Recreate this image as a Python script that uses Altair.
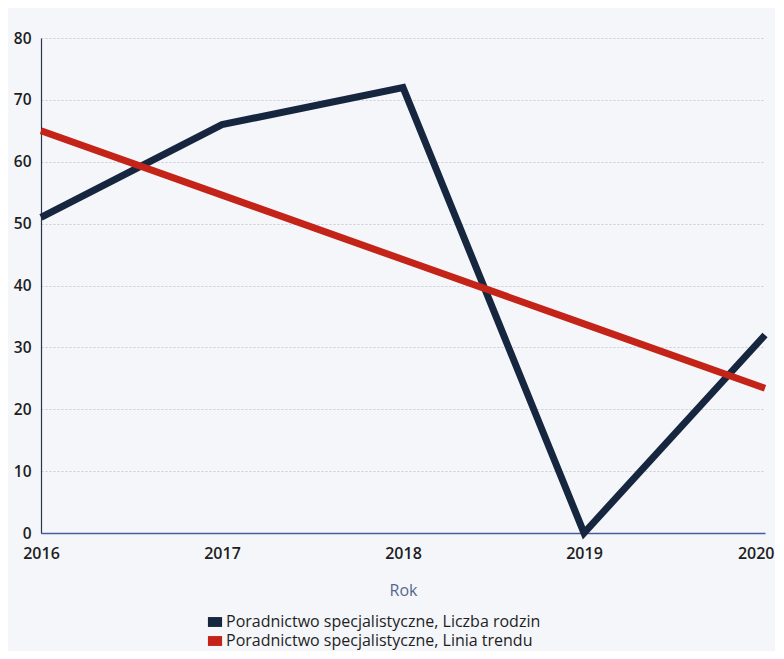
import altair as alt
import pandas as pd

years = [2016, 2017, 2018, 2019, 2020]
liczba_rodzin = [51, 66, 72, 0, 32]
linia_trendu = [65.0, 54.6, 44.2, 33.8, 23.4]
series_names = ["Poradnictwo specjalistyczne, Liczba rodzin",
                "Poradnictwo specjalistyczne, Linia trendu"]
colors = ["#17263f", "#c42318"]

rows = []
for y, a in zip(years, liczba_rodzin):
    rows.append({"Rok": y, "value": a, "series": series_names[0]})
for y, b in zip(years, linia_trendu):
    rows.append({"Rok": y, "value": b, "series": series_names[1]})
df = pd.DataFrame(rows)

font = "Open Sans"

x_enc = alt.X("Rok:Q",
              scale=alt.Scale(domain=[2016, 2020], nice=False, zero=False),
              axis=alt.Axis(values=years, format="d", title="Rok", grid=False, ticks=False,
                            domainColor="#4a5c9e", domainWidth=1.5,
                            labelFont=font, labelFontSize=16, labelFontWeight=600,
                            labelColor="#1e1e1e", labelPadding=12, labelFlush=False,
                            labelAlign=alt.condition("datum.value == 2020",
                                                     alt.value("right"), alt.value("center")),
                            labelOffset=alt.condition("datum.value == 2020",
                                                      alt.value(9), alt.value(0)),
                            titleFont=font, titleFontSize=16, titleFontWeight="normal",
                            titleColor="#56688c", titlePadding=21))
y_enc = alt.Y("value:Q",
              scale=alt.Scale(domain=[0, 80], nice=False),
              axis=alt.Axis(values=[0, 10, 20, 30, 40, 50, 60, 70, 80], title=None,
                            ticks=False, domainColor="#2b3550", domainWidth=1.2,
                            gridColor="#c9ccd6", gridDash=[2, 2], gridWidth=1,
                            labelFont=font, labelFontSize=15.5, labelFontWeight=600,
                            labelColor="#1e1e1e", labelPadding=10))
color_scale = alt.Scale(domain=series_names, range=colors)

legend_layer = alt.Chart(df).mark_square(opacity=0, size=1).encode(
    x=x_enc, y=y_enc,
    color=alt.Color("series:N", scale=color_scale,
                    legend=alt.Legend(title=None, orient="none", legendX=166, legendY=576,
                                      direction="vertical",
                                      symbolType="M-1,-0.7H1V0.7H-1Z", symbolSize=200,
                                      symbolStrokeWidth=0, symbolOpacity=1,
                                      labelFont=font, labelFontSize=16, labelColor="#1e1e1e",
                                      labelLimit=500, rowPadding=3, labelOffset=3)),
)

lines = alt.Chart(df).mark_line(strokeWidth=7, strokeCap="butt", strokeJoin="miter").encode(
    x=x_enc, y=y_enc,
    color=alt.Color("series:N", scale=color_scale, legend=None),
    order=alt.Order("Rok:Q"),
)

chart = alt.layer(legend_layer, lines).resolve_legend(color="independent").properties(
    width=724, height=495,
    padding={"left": 33, "top": 30, "right": 10, "bottom": 118},
    autosize=alt.AutoSizeParams(type="none"),
    background="#f4f6fa",
).configure_view(stroke=None)

chart.save("out.html", embed_options={"renderer": "svg", "actions": False})
